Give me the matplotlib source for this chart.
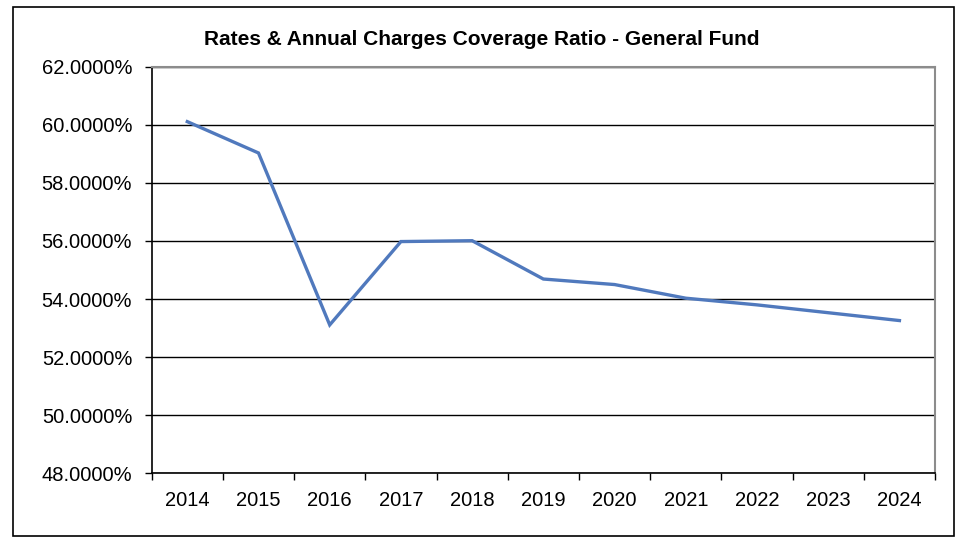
import matplotlib.pyplot as plt
from matplotlib.ticker import FuncFormatter, FixedLocator
import numpy as np

plt.rcParams['font.family'] = ['Liberation Sans', 'DejaVu Sans']

years = ['2014', '2015', '2016', '2017', '2018', '2019', '2020', '2021', '2022', '2023', '2024']
ratio = [60.11, 59.03, 53.11, 55.98, 56.01, 54.69, 54.50, 54.03, 53.80, 53.53, 53.26]

fig = plt.figure(figsize=(9.6, 5.47), dpi=100)
ax = fig.add_axes([0.158, 0.1347, 0.816, 0.7433])

x = np.arange(len(years))
ax.plot(x, ratio, color='#5079BD', lw=2.4, solid_joinstyle='miter')

ax.set_xlim(-0.5, len(years) - 0.5)
ax.set_ylim(48, 62)
ax.set_yticks(np.arange(48, 62.1, 2))
ax.yaxis.set_major_formatter(FuncFormatter(lambda v, p: f'{v:.4f}%'))
ax.grid(axis='y', color='black', lw=1)
ax.set_axisbelow(True)

ax.set_xticks(x)
ax.set_xticklabels(years)
ax.xaxis.set_minor_locator(FixedLocator(np.arange(-0.5, len(years), 1)))
ax.tick_params(axis='x', which='major', length=0, pad=13, labelsize=14.5)
ax.tick_params(axis='x', which='minor', length=5, width=1, direction='out')
ax.tick_params(axis='y', length=5, width=1, labelsize=14.5, pad=9)

for s in ['left', 'bottom']:
    ax.spines[s].set_color('black')
    ax.spines[s].set_linewidth(1.2)
for s in ['top', 'right']:
    ax.spines[s].set_color('#8c8c8c')
    ax.spines[s].set_linewidth(1.5)

fig.text(0.502, 0.928, 'Rates & Annual Charges Coverage Ratio - General Fund',
         ha='center', va='center', fontsize=15, fontweight='bold')

fig.patches.append(plt.Rectangle((0.0132, 0.0201), 0.9805, 0.967, transform=fig.transFigure,
                                 fill=False, edgecolor='black', lw=1.2))

fig.savefig('out.png', dpi=100)
